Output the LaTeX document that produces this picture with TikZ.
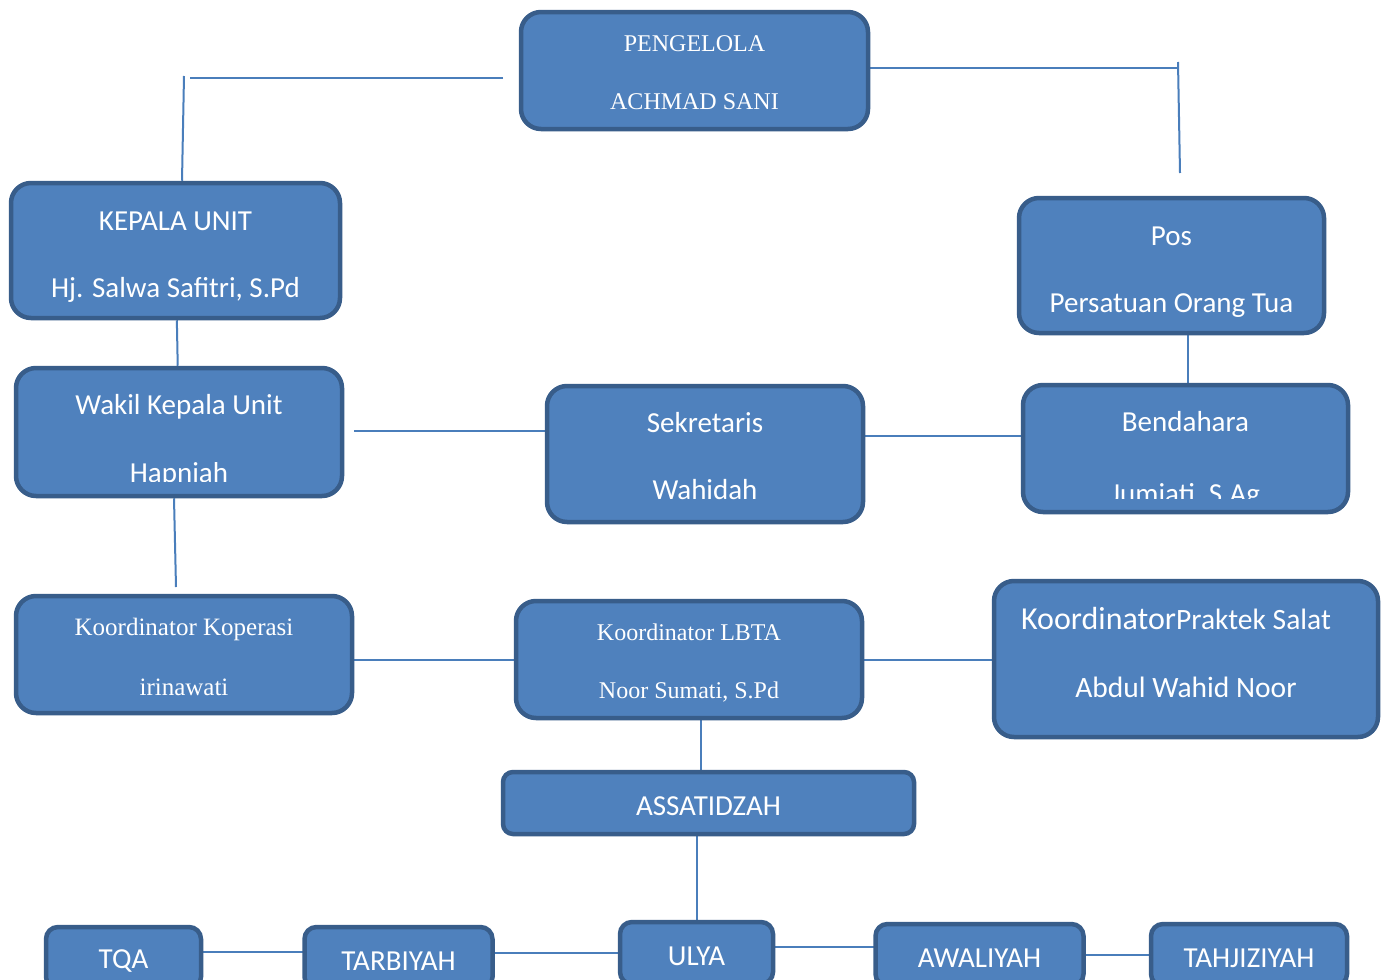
\documentclass[tikz,border=0pt]{standalone}
\usepackage{fontspec}
\setmainfont{Liberation Serif}
\newfontfamily\calibri{Carlito}
\usepackage{trimclip}
\usetikzlibrary{positioning,backgrounds,calc}
\definecolor{boxblue}{HTML}{4F81BD}
\definecolor{boxedge}{HTML}{385D8A}
\definecolor{linkblue}{HTML}{4A7EBB}
\newcommand\lift[1][32pt]{\rule{0pt}{#1}}

\begin{document}
\begin{tikzpicture}[x=1pt,y=-1pt,
	box/.style={draw=boxedge,fill=boxblue,line width=4.5pt,rounded corners=20pt,
		text=white,align=center,inner sep=0pt},
	sans/.style={font=\calibri\fontsize{29}{67}\selectfont},
	serif/.style={font=\fontsize{24}{58}\selectfont},
	small/.style={box,sans,execute at begin node={\lift[25pt]},rounded corners=12pt,minimum height=62pt},
	link/.style={draw=linkblue,line width=2pt}]

\useasboundingbox (0,0) rectangle (1387,980);

\node [box,serif,minimum width=347pt,minimum height=117pt] (pengelola) at (694.5,70.5) {\lift[20pt]PENGELOLA\\ACHMAD SANI};

\node [box,sans,minimum width=329pt,minimum height=135pt] (kepala) at (175.5,250.5) {\lift KEPALA UNIT\\Hj. Salwa Safitri, S.Pd};
\node [box,sans,minimum width=305pt,minimum height=135pt] (pos) at (1171.5,265.5) {\lift Pos\\Persatuan Orang Tua};

\node [box,sans,minimum width=326pt,minimum height=128pt] (wakil) at (179,432) {\lift Wakil Kepala Unit\\\clipbox{0pt 6pt 0pt 0pt}{Hapniah}};
\node [box,sans,minimum width=316pt,minimum height=136pt] (sekretaris) at (705,454) {\lift[25pt]Sekretaris\\Wahidah};
\node [box,sans,minimum width=325pt,minimum height=127pt] (bendahara) at (1185.5,448.5) {\lift Bendahara\\\clipbox{0pt 10pt 0pt 0pt}{Jumiati, S.Ag}};

\node [box,serif,font=\fontsize{25}{60}\selectfont,minimum width=336pt,minimum height=117pt] (koperasi) at (184,654.5) {\lift[22pt]Koordinator Koperasi\\irinawati};
\node [box,serif,minimum width=346pt,minimum height=117pt] (lbta) at (689,659.5) {\lift[24pt]Koordinator LBTA\\Noor Sumati, S.Pd};
\node [box,font=\calibri\fontsize{29.5}{68}\selectfont,execute at end node={\rule[-14pt]{0pt}{0pt}},
	minimum width=384pt,minimum height=156pt] (praktek) at (1186,659)
	{{\fontsize{32}{68}\selectfont Koordinator}Praktek Salat\hspace*{20pt}\\Abdul Wahid Noor};

\node [small,rounded corners=10pt,minimum width=411pt] (assatidzah) at (708.5,803) {ASSATIDZAH};

\node [small,minimum width=155pt] (tqa) at (123.5,958) {TQA};
\node [small,minimum width=188pt] (tarbiyah) [right=99pt of tqa] {TARBIYAH};
\node [small,minimum width=153pt] (ulya) [right=123pt of tarbiyah,yshift=5pt] {ULYA};
\node [small,minimum width=208pt] (awaliyah) [right=98pt of ulya,yshift=-2pt] {AWALIYAH};
\node [small,minimum width=196pt] (tahjiziyah) [right=63pt of awaliyah] {TAHJIZIYAH};

\coordinate (pl) at (503,78);
\coordinate (kl) at (190,78);
\coordinate (kt) at (184,76);
\coordinate (pr) at (1178,68);
\coordinate (pt) at (1178,62);
\coordinate (pb) at (1180,173);
\coordinate (ws) at (354,431);
\coordinate (kk) at (176,587);

\begin{pgfonlayer}{background}
\fill [white] (0,0) rectangle (1387,980);
\path [link]
	(pl) edge (kl)
	(kt) edge ([xshift=-2pt]kt |- kepala.north)
	(pengelola |- pr) edge (pr)
	(pt) edge (pb)
	(kepala) edge (wakil)
	([xshift=-5pt]wakil.south) edge (kk)
	(ws) edge (ws -| sekretaris)
	([yshift=18pt]sekretaris.center) edge ([yshift=18pt]sekretaris.center -| bendahara)
	([xshift=16pt]pos.center) edge ([xshift=16pt]pos.center |- bendahara)
	(koperasi |- lbta) edge (lbta)
	(lbta) edge (lbta -| praktek)
	([xshift=12pt]lbta.center) edge ([xshift=12pt]lbta.center |- assatidzah)
	(ulya |- assatidzah) edge (ulya)
	([yshift=6pt]tqa.center) edge ([yshift=6pt]tqa.center -| tarbiyah)
	(tarbiyah |- ulya) edge (ulya)
	([yshift=6pt]ulya.center) edge ([yshift=6pt]ulya.center -| awaliyah)
	(awaliyah) edge (tahjiziyah)
;
\end{pgfonlayer}

\end{tikzpicture}
\end{document}
